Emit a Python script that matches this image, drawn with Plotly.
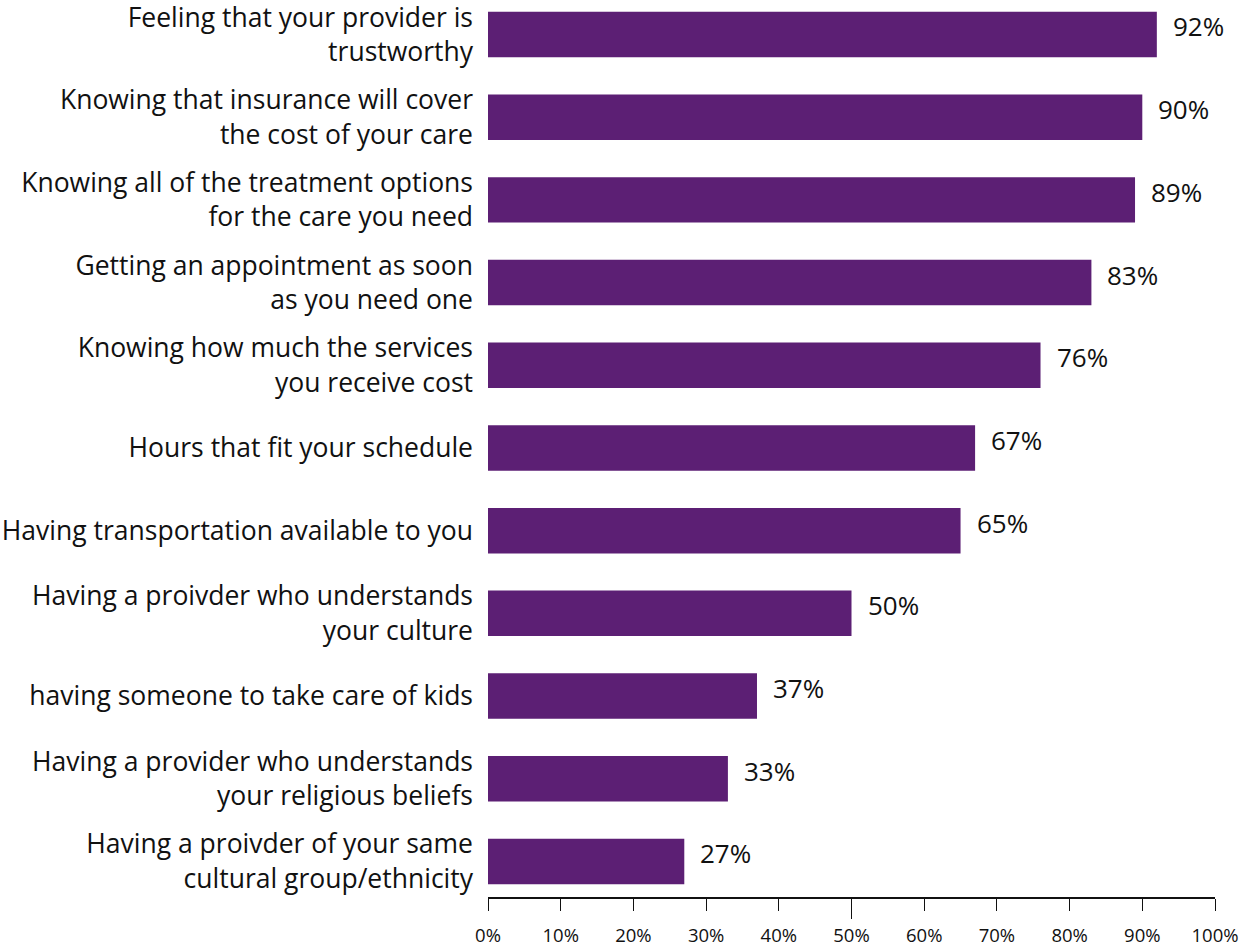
import plotly.graph_objects as go

# Survey items, top to bottom, with the share rating each as important
categories = [
    "Feeling that your provider is<br>trustworthy",
    "Knowing that insurance will cover<br>the cost of your care",
    "Knowing all of the treatment options<br>for the care you need",
    "Getting an appointment as soon<br>as you need one",
    "Knowing how much the services<br>you receive cost",
    "Hours that fit your schedule",
    "Having transportation available to you",
    "Having a proivder who understands<br>your culture",
    "having someone to take care of kids",
    "Having a provider who understands<br>your religious beliefs",
    "Having a proivder of your same<br>cultural group/ethnicity",
]
values = [92, 90, 89, 83, 76, 67, 65, 50, 37, 33, 27]
tick_vals = [0, 10, 20, 30, 40, 50, 60, 70, 80, 90, 100]
tick_text = [f"{v}%" for v in tick_vals]
mid_tick = [50]

BAR_COLOR = "#5c1f74"
FONT = "Open Sans"
INK = "#111111"

fig = go.Figure(
    go.Bar(
        x=values,
        y=categories,
        orientation="h",
        marker=dict(color=BAR_COLOR, line=dict(width=0)),
        width=0.55,
        hoverinfo="skip",
    )
)
# empty trace so the overlay axis carrying the long midpoint tick is drawn
fig.add_trace(go.Scatter(x=[], y=[], xaxis="x2", hoverinfo="skip"))

# percentage labels beside each bar
for cat, val in zip(categories, values):
    fig.add_annotation(
        x=val, y=cat, text=f"{val}%", showarrow=False,
        xanchor="left", yanchor="middle", xshift=14, yshift=8,
        font=dict(family=FONT, size=26, color=INK),
    )

fig.update_layout(
    width=1239, height=951,
    margin=dict(l=488, r=24, t=0, b=54, autoexpand=False),
    paper_bgcolor="white", plot_bgcolor="white",
    showlegend=False,
    font=dict(family=FONT, color=INK),
    xaxis2=dict(
        overlaying="x", anchor="y", side="bottom", range=[0, 100],
        tickvals=mid_tick, ticks="outside", ticklen=21, tickwidth=1.2,
        tickcolor=INK, showticklabels=False, showgrid=False,
        showline=False, zeroline=False, fixedrange=True,
        automargin=False,
    ),
)
fig.layout.xaxis.update(
    range=[0, 100], tickvals=tick_vals, ticktext=tick_text,
    showgrid=False, zeroline=False,
    showline=True, linecolor=INK, linewidth=1.5,
    ticks="outside", ticklen=12, tickcolor=INK, tickwidth=1,
    tickfont=dict(family=FONT, size=18.5, color=INK),
    ticklabelshift=0, ticklabelstandoff=9,
    ticklabeloverflow="allow",
    automargin=False,
    fixedrange=True,
)
fig.update_yaxes(
    categoryorder="array", categoryarray=categories,
    range=[10.43, -0.417],
    showgrid=False, zeroline=False, showline=False, ticks="",
    tickfont=dict(family=FONT, size=26.5, color=INK),
    ticklabelstandoff=14,
    automargin=False,
    fixedrange=True,
)

fig.write_html("out.html")
